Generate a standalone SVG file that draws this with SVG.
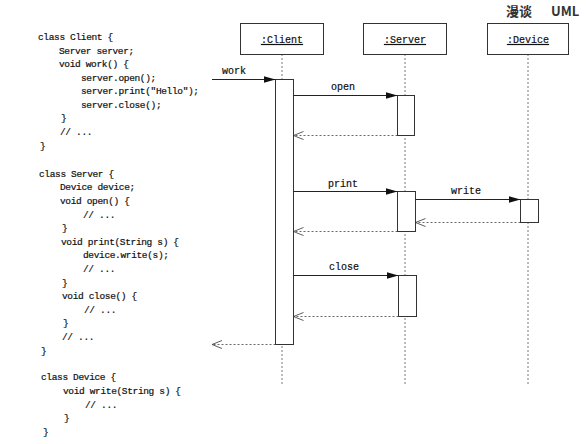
<svg xmlns="http://www.w3.org/2000/svg" width="586" height="444" viewBox="0 0 586 444">
<defs>
<style>
.code{font-family:"Liberation Mono","DejaVu Sans Mono",monospace;font-size:9.5px;letter-spacing:-0.35px;fill:#111;stroke:#111;stroke-width:0.2px}
.lbl{font-family:"Liberation Mono","DejaVu Sans Mono",monospace;font-size:10px;fill:#111;stroke:#111;stroke-width:0.2px}
.obj{font-family:"Liberation Mono","DejaVu Sans Mono",monospace;font-size:10px;fill:#111;stroke:#111;stroke-width:0.2px;text-anchor:middle;text-decoration:underline}
.title{font-family:"Noto Sans CJK SC","Noto Sans",sans-serif;font-size:13px;font-weight:bold;fill:#333}
.box{fill:#fff;stroke:#333;stroke-width:1}
.life{stroke:#555;stroke-width:0.8;stroke-dasharray:2,2;fill:none}
.call{stroke:#222;stroke-width:1;fill:none;marker-end:url(#filled)}
.ret{stroke:#444;stroke-width:0.8;stroke-dasharray:2,2;fill:none;marker-end:url(#open)}
</style>
<marker id="filled" markerUnits="userSpaceOnUse" markerWidth="13" markerHeight="8" refX="12" refY="3.5" orient="auto">
<path d="M0,0 L12,3.5 L0,7 z" fill="#111"/>
</marker>
<marker id="open" markerUnits="userSpaceOnUse" markerWidth="12" markerHeight="10" refX="10.5" refY="4.5" orient="auto">
<path d="M0.5,0.5 L10.5,4.5 L0.5,8.5" fill="none" stroke="#333" stroke-width="0.8"/>
</marker>
</defs>
<rect width="586" height="444" fill="#fff"/>

<g id="header">
<text class="title" x="506" y="16">漫谈</text>
<text class="title" x="551" y="16">UML</text>
</g>

<g id="code">
<text class="code" x="38" y="40">class Client {</text>
<text class="code" x="59" y="54">Server server;</text>
<text class="code" x="59" y="67">void work() {</text>
<text class="code" x="81" y="81">server.open();</text>
<text class="code" x="81" y="94">server.print("Hello");</text>
<text class="code" x="81" y="108">server.close();</text>
<text class="code" x="61" y="121">}</text>
<text class="code" x="60" y="135">// ...</text>
<text class="code" x="40" y="149">}</text>

<text class="code" x="39" y="177">class Server {</text>
<text class="code" x="60" y="190">Device device;</text>
<text class="code" x="60" y="204">void open() {</text>
<text class="code" x="83" y="218">// ...</text>
<text class="code" x="62" y="231">}</text>
<text class="code" x="61" y="245">void print(String s) {</text>
<text class="code" x="83" y="258">device.write(s);</text>
<text class="code" x="83" y="272">// ...</text>
<text class="code" x="62" y="286">}</text>
<text class="code" x="62" y="299">void close() {</text>
<text class="code" x="84" y="313">// ...</text>
<text class="code" x="63" y="326">}</text>
<text class="code" x="62" y="340">// ...</text>
<text class="code" x="41" y="354">}</text>

<text class="code" x="41" y="380">class Device {</text>
<text class="code" x="63" y="394">void write(String s) {</text>
<text class="code" x="85" y="408">// ...</text>
<text class="code" x="64" y="421">}</text>
<text class="code" x="43" y="435">}</text>
</g>

<g id="lifelines">
<line class="life" x1="282" y1="54" x2="282" y2="384"/>
<line class="life" x1="405" y1="54" x2="405" y2="384"/>
<line class="life" x1="528" y1="54" x2="528" y2="384"/>
</g>

<g id="client">
<rect class="box" x="240.5" y="23.5" width="83" height="31"/>
<text class="obj" x="282" y="43">:Client</text>
<rect class="box" x="275.5" y="79.5" width="18" height="265"/>
</g>

<g id="server">
<rect class="box" x="363.5" y="23.5" width="83" height="31"/>
<text class="obj" x="405" y="43">:Server</text>
<rect class="box" x="397.5" y="95.5" width="17" height="40"/>
<rect class="box" x="397.5" y="191.5" width="18" height="40"/>
<rect class="box" x="398.5" y="275.5" width="18" height="41"/>
</g>

<g id="device">
<rect class="box" x="487.5" y="23.5" width="81" height="31"/>
<text class="obj" x="528" y="43">:Device</text>
<rect class="box" x="520.5" y="199.5" width="18" height="23"/>
</g>

<g id="connectors">
<line class="call" x1="212" y1="79.5" x2="275.5" y2="79.5"/>
<text class="lbl" x="222" y="74">work</text>
<line class="call" x1="293.5" y1="95.5" x2="397.5" y2="95.5"/>
<text class="lbl" x="331" y="90">open</text>
<line class="ret" x1="397.5" y1="135.5" x2="293.5" y2="135.5"/>
<line class="call" x1="293.5" y1="191.5" x2="397.5" y2="191.5"/>
<text class="lbl" x="328" y="187">print</text>
<line class="call" x1="415.5" y1="199.5" x2="520.5" y2="199.5"/>
<text class="lbl" x="451" y="194">write</text>
<line class="ret" x1="520.5" y1="222.5" x2="415.5" y2="222.5"/>
<line class="ret" x1="397.5" y1="231.5" x2="293.5" y2="231.5"/>
<line class="call" x1="293.5" y1="275.5" x2="398.5" y2="275.5"/>
<text class="lbl" x="329" y="270">close</text>
<line class="ret" x1="398.5" y1="316.5" x2="293.5" y2="316.5"/>
<line class="ret" x1="275.5" y1="344.5" x2="212" y2="344.5"/>
</g>
</svg>
